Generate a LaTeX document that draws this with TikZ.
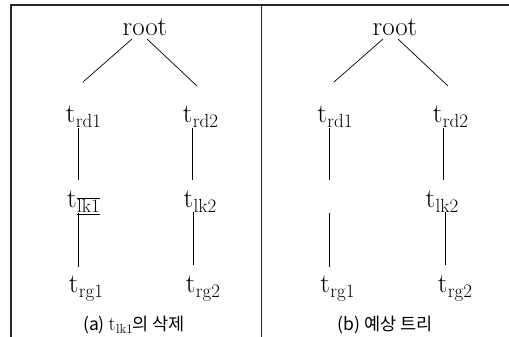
\documentclass[tikz,border=0pt]{standalone}
\usepackage{fontspec}
\newfontfamily\krfont{Noto Sans CJK KR}
\usetikzlibrary{calc}
\newcommand{\tsub}[1]{t\kern0.5pt\raisebox{-0.22em}{\fontsize{19}{19}\selectfont #1}}
\newcommand{\tsubx}[1]{t\kern0.5pt\raisebox{-0.22em}{\fontsize{19}{19}\selectfont $\overline{\underline{\hbox{#1}}}$}}
\newcommand{\capsub}[1]{{\normalfont\fontsize{20}{20}\selectfont t}\kern0.3pt\raisebox{-0.2em}{\normalfont\fontsize{13}{13}\selectfont #1}}
\begin{document}
\begin{tikzpicture}[x=1pt,y=-1pt,
  tn/.style={anchor=base,inner sep=0pt,font=\fontsize{27}{27}\selectfont},
  capn/.style={anchor=base,inner sep=0pt,font=\krfont\fontsize{17.5}{17.5}\selectfont},
  frame/.style={line width=1.1pt,draw=black!85},
  conn/.style={line width=0.7pt}]
\useasboundingbox (0,0) rectangle (509,337);
\fill[white] (0,0) rectangle (509,337);
% frame
\coordinate (tl) at (11,5);
\coordinate (tr) at (509,5);
\coordinate (bl) at (11,337);
\coordinate (tm) at (261.5,5);
\coordinate (bm) at (261.5,337);
\draw[frame] (bl) -- (tl) -- (tr);
\draw[frame] (tm) -- (bm);
% left panel
\node[tn] (rootA) at (145,36) {root};
\node[tn] (rd1A) at (83.5,122) {\tsub{rd1}};
\node[tn] (rd2A) at (200.5,122) {\tsub{rd2}};
\node[tn] (lk1A) at (83.5,207) {\tsubx{lk1}};
\node[tn] (lk2A) at (200,207) {\tsub{lk2}};
\node[tn] (rg1A) at (86,292) {\tsub{rg1}};
\node[tn] (rg2A) at (203,292) {\tsub{rg2}};
\node[capn] (capA) at (134,330) {(a) \capsub{lk1}의 삭제};
\draw[conn] ($(rootA.base)+(-13,3)$) -- ($(rd1A.base)+(-0.5,-40)$);
\draw[conn] ($(rootA.base)+(2,3)$) -- ($(rd2A.base)+(-3.5,-36)$);
\draw[conn] ($(rd1A.base)+(-5.5,6)$) -- ($(lk1A.base)+(-5.5,-27)$);
\draw[conn] ($(rd2A.base)+(-8.5,6)$) -- ($(lk2A.base)+(-8,-27)$);
\draw[conn] ($(lk1A.base)+(-5.5,6)$) -- ($(rg1A.base)+(-8,-25)$);
\draw[conn] ($(lk2A.base)+(-7,5)$) -- ($(rg2A.base)+(-10,-27)$);
% right panel
\node[tn] (rootB) at (395,36) {root};
\node[tn] (rd1B) at (335,122) {\tsub{rd1}};
\node[tn] (rd2B) at (450.5,122) {\tsub{rd2}};
\node[tn] (lk2B) at (442,207) {\tsub{lk2}};
\node[tn] (rg1B) at (337.5,292) {\tsub{rg1}};
\node[tn] (rg2B) at (455,292) {\tsub{rg2}};
\node[capn] (capB) at (385,330) {(b) 예상 트리};
\coordinate (gapTop) at (329,180);
\coordinate (gapBot) at (329,213);
\draw[conn] ($(rootB.base)+(-12,3)$) -- ($(rd1B.base)+(-1,-40)$);
\draw[conn] ($(rootB.base)+(3,3)$) -- ($(rd2B.base)+(-2.5,-36)$);
\draw[conn] ($(rd1B.base)+(-6,6)$) -- (gapTop);
\draw[conn] (gapBot) -- ($(rg1B.base)+(-8.5,-25)$);
\draw[conn] ($(rd2B.base)+(-7.5,6)$) -- ($(lk2B.base)+(1,-27)$);
\draw[conn] ($(lk2B.base)+(3,5)$) -- ($(rg2B.base)+(-10,-27)$);
\end{tikzpicture}
\end{document}
